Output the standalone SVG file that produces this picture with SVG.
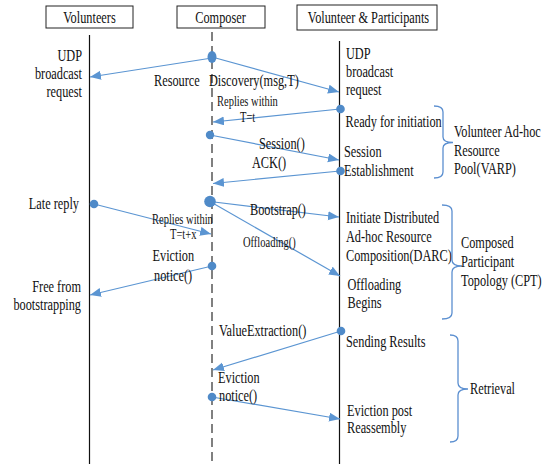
<svg xmlns="http://www.w3.org/2000/svg" width="550" height="464" viewBox="0 0 550 464">
<defs>
<marker id="ah" markerUnits="userSpaceOnUse" markerWidth="12" markerHeight="10" refX="11" refY="4.5" orient="auto">
<path d="M0,0 L11,4.5 L0,9 z" fill="#5b95d2"/>
</marker>
<style>
text{font-family:"Liberation Serif","Times New Roman",serif;font-size:12.3px;fill:#111}
.s{font-size:10.5px}
.e{text-anchor:end}
.m{text-anchor:middle}
.box{fill:#fff;stroke:#222;stroke-width:1}
.life{stroke:#111;stroke-width:1.2;fill:none}
.dash{stroke:#808080;stroke-width:2;stroke-dasharray:9,5;fill:none}
.msg{stroke:#5b95d2;stroke-width:1.2;fill:none;marker-end:url(#ah)}
.dot{fill:#4f8ac8}
.br{stroke:#5b8fd0;stroke-width:1.3;fill:none}
</style>
</defs>
<rect width="550" height="464" fill="#fff"/>

<g id="volunteers">
<rect class="box" x="46" y="6" width="87" height="22"/>
<text class="m" transform="translate(89.5,23) scale(1,1.3)">Volunteers</text>
<line class="life" x1="89.5" y1="35" x2="89.5" y2="464"/>
</g>
<g id="composer">
<rect class="box" x="177" y="6" width="88" height="22"/>
<text class="m" transform="translate(220.5,23) scale(1,1.3)">Composer</text>
<line class="dash" x1="212" y1="32" x2="212" y2="464"/>
</g>
<g id="participants">
<rect class="box" x="297" y="5" width="140" height="25"/>
<text class="m" transform="translate(368.5,23) scale(1,1.3)">Volunteer &amp; Participants</text>
<line class="life" x1="339.5" y1="41" x2="339.5" y2="464"/>
</g>

<g id="connectors">
<line class="msg" x1="212" y1="58" x2="90" y2="77"/>
<line class="msg" x1="212" y1="57" x2="339" y2="92"/>
<line class="msg" x1="340" y1="109" x2="213" y2="122"/>
<line class="msg" x1="210" y1="135" x2="339" y2="160"/>
<line class="msg" x1="340" y1="171" x2="213" y2="183.5"/>
<line class="msg" x1="210" y1="201.5" x2="339" y2="217"/>
<line class="msg" x1="210" y1="201.5" x2="340" y2="276"/>
<line class="msg" x1="94" y1="204" x2="211" y2="234"/>
<line class="msg" x1="212" y1="266" x2="90" y2="295"/>
<line class="msg" x1="341" y1="331" x2="213" y2="370"/>
<line class="msg" x1="212" y1="397" x2="340" y2="419"/>
<ellipse class="dot" cx="212" cy="57" rx="4.5" ry="6"/>
<circle class="dot" cx="340.5" cy="109" r="4.3"/>
<circle class="dot" cx="210" cy="135" r="4.2"/>
<circle class="dot" cx="340.5" cy="171" r="4.3"/>
<circle class="dot" cx="210" cy="201.5" r="5.8"/>
<circle class="dot" cx="94" cy="204" r="4.3"/>
<circle class="dot" cx="212" cy="266" r="4.3"/>
<circle class="dot" cx="341" cy="331" r="4.3"/>
<circle class="dot" cx="212" cy="397" r="4.3"/>
</g>

<g id="labels-left">
<text class="e" transform="translate(82,61) scale(1,1.3)">UDP</text>
<text class="e" transform="translate(82,79) scale(1,1.3)">broadcast</text>
<text class="e" transform="translate(82,97) scale(1,1.3)">request</text>
<text class="e" transform="translate(79,209) scale(1,1.3)">Late reply</text>
<text class="e" transform="translate(81,292) scale(1,1.3)">Free from</text>
<text class="e" transform="translate(81,310) scale(1,1.3)">bootstrapping</text>
</g>

<g id="labels-messages">
<text transform="translate(154,86) scale(1,1.3)">Resource</text>
<text transform="translate(209,86) scale(1,1.3)">Discovery(msg,T)</text>
<text class="s" transform="translate(217,106) scale(1,1.3)">Replies within</text>
<text class="s" transform="translate(240,122) scale(1,1.3)">T=t</text>
<text transform="translate(259,148.5) scale(1,1.3)">Session()</text>
<text transform="translate(252,168) scale(1,1.3)">ACK()</text>
<text transform="translate(250,215) scale(1,1.3)">Bootstrap()</text>
<text class="s" transform="translate(152,224) scale(1,1.3)">Replies within</text>
<text class="s" transform="translate(170,239) scale(1,1.3)">T=t+x</text>
<text class="s" transform="translate(243,247) scale(1,1.3)">Offloading()</text>
<text transform="translate(152.5,261) scale(1,1.3)">Eviction</text>
<text transform="translate(154,281) scale(1,1.3)">notice()</text>
<text transform="translate(219,336) scale(1,1.3)">ValueExtraction()</text>
<text transform="translate(218,383) scale(1,1.3)">Eviction</text>
<text transform="translate(219,401) scale(1,1.3)">notice()</text>
</g>

<g id="labels-right">
<text transform="translate(346,59) scale(1,1.3)">UDP</text>
<text transform="translate(346,77) scale(1,1.3)">broadcast</text>
<text transform="translate(346,95) scale(1,1.3)">request</text>
<text transform="translate(345.5,127) scale(1,1.3)">Ready for initiation</text>
<text transform="translate(344,157) scale(1,1.3)">Session</text>
<text transform="translate(344,176) scale(1,1.3)">Establishment</text>
<text transform="translate(346,223) scale(1,1.3)">Initiate Distributed</text>
<text transform="translate(346,242) scale(1,1.3)">Ad-hoc Resource</text>
<text transform="translate(346,261) scale(1,1.3)">Composition(DARC)</text>
<text transform="translate(347.5,290) scale(1,1.3)">Offloading</text>
<text transform="translate(347.5,308) scale(1,1.3)">Begins</text>
<text transform="translate(346,347) scale(1,1.3)">Sending Results</text>
<text transform="translate(347,416) scale(1,1.3)">Eviction post</text>
<text transform="translate(347,433) scale(1,1.3)">Reassembly</text>
</g>

<g id="varp">
<path class="br" d="M434,106 Q443,106 443,112 V137 Q443,142.5 453,142.5 Q443,142.5 443,148 V172 Q443,178 434,178"/>
<text transform="translate(454,137) scale(1,1.3)">Volunteer Ad-hoc</text>
<text transform="translate(454,156) scale(1,1.3)">Resource</text>
<text transform="translate(454,174) scale(1,1.3)">Pool(VARP)</text>
</g>
<g id="cpt">
<path class="br" d="M442,205 Q452,205 452,211 V260 Q452,266 462,266 Q452,266 452,272 V313 Q452,319 442,319"/>
<text transform="translate(461,248) scale(1,1.3)">Composed</text>
<text transform="translate(461,267) scale(1,1.3)">Participant</text>
<text transform="translate(461,286) scale(1,1.3)">Topology (CPT)</text>
</g>
<g id="retrieval">
<path class="br" d="M450,335 Q458,335 458,341 V383 Q458,389 468,389 Q458,389 458,395 V436 Q458,442 450,442"/>
<text transform="translate(470,394) scale(1,1.3)">Retrieval</text>
</g>
</svg>
